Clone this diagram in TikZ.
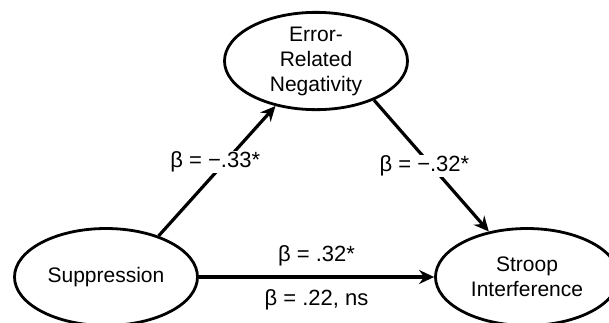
\documentclass[tikz,border=0pt]{standalone}
\usepackage{fontspec}
\setmainfont{Liberation Sans}
\usetikzlibrary{arrows.meta,shapes.geometric}

\begin{document}
\begin{tikzpicture}[x=1pt,y=-1pt,
                    every node/.style={font=\fontsize{21}{25}\selectfont},
                    var/.style={ellipse,draw,line width=2.8pt,inner sep=0pt,
                                minimum width=183pt,minimum height=97pt,align=center},
                    effect/.style={line width=3.2pt,-{Stealth[length=15pt,width=14pt,inset=5pt]}},
                    coef/.style={font=\fontsize{22}{26}\selectfont,fill=white,inner sep=1pt}]
   \useasboundingbox (0,0) rectangle (609,322);
   \node[var] (ern)    at (316,61)  {Error-\\Related\\Negativity};
   \node[var] (supp)   at (106,277) {Suppression};
   \node[var] (stroop) at (527,277) {Stroop\\Interference};
   \draw[effect] (supp.38) -- node[coef,pos=0.57,xshift=-10pt] {β = −.33*} (ern.228);
   \draw[effect] (ern.326) -- node[coef,pos=0.5,xshift=-7pt] {β = −.32*} (stroop.130);
   \draw[effect] (supp) -- node[coef,fill=none,above=8pt] {β = .32*}
                           node[coef,fill=none,below=10pt] {β = .22, ns} (stroop);
\end{tikzpicture}
\end{document}
